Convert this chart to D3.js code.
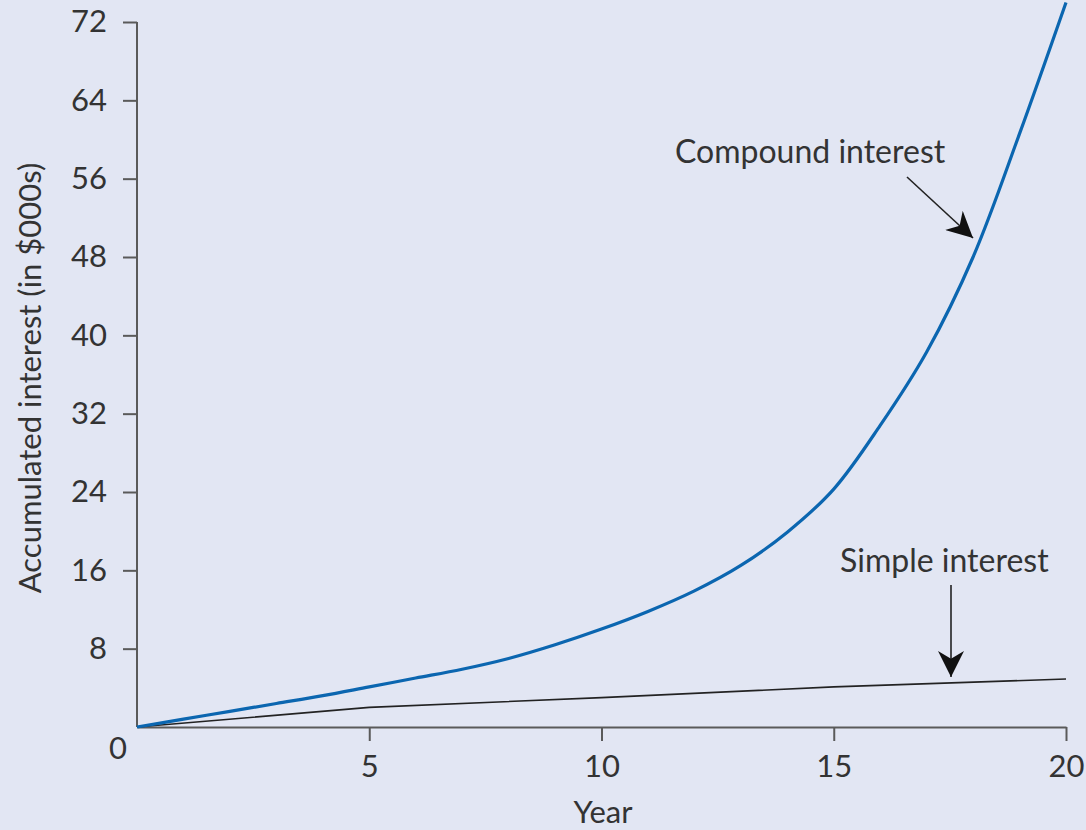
<!DOCTYPE html>
<html>
<head>
<meta charset="utf-8">
<script src="https://cdn.jsdelivr.net/npm/d3@7"></script>
<style>
  html, body { margin: 0; padding: 0; background: #e2e6f3; }
  svg { display: block; }
  text { font-family: Lato, "Open Sans", sans-serif; fill: #333; }
</style>
</head>
<body>
<svg id="chart" width="1086" height="830"></svg>
<script>
const years = [0,1,2,3,4,5,6,7,8,9,10,11,12,13,14,15,16,17,18,19,20];
const compoundInterest = [0,0.8,1.6,2.4,3.2,4.1,5.0,5.9,7.0,8.4,10.0,11.8,13.9,16.5,19.9,24.3,30.8,38.3,48.0,60.6,74];
const simpleYears = [0,5,10,15,20];
const simpleInterest = [0,2.0,3.0,4.1,4.9];
const yTicks = [8,16,24,32,40,48,56,64,72];
const xTicks = [5,10,15,20];

const svg = d3.select("#chart");
const x = d3.scaleLinear().domain([0,20]).range([137,1066]);
const y = d3.scaleLinear().domain([0,72]).range([727,22]);

const axisColor = "#5a5a5a";
const fs = "31px";

// Axes
const yAxis = svg.append("g").attr("transform", `translate(${x(0)},0)`)
  .call(d3.axisLeft(y).tickValues(yTicks).tickSize(14).tickSizeOuter(0).tickPadding(16));
const xAxis = svg.append("g").attr("transform", `translate(0,${y(0)})`)
  .call(d3.axisBottom(x).tickValues(xTicks).tickSize(14).tickSizeOuter(0).tickPadding(14));
[yAxis, xAxis].forEach(a => {
  a.select(".domain").attr("stroke", axisColor).attr("stroke-width", 2);
  a.selectAll(".tick line").attr("stroke", axisColor).attr("stroke-width", 2);
  a.selectAll(".tick text").attr("fill", "#333").style("font-size", fs)
    .style("font-family", "Lato, sans-serif");
});
yAxis.select(".domain").attr("d", `M0,${y(0)}V${y(72)}`);

// origin label
svg.append("text").attr("x", x(0) - 19).attr("y", y(0) + 32)
  .attr("text-anchor", "middle").style("font-size", fs).text("0");

// Axis titles
svg.append("text").attr("x", 603).attr("y", 823).attr("text-anchor", "middle")
  .style("font-size", fs).text("Year");
svg.append("text").attr("transform", `translate(41,378) rotate(-90)`)
  .attr("text-anchor", "middle").style("font-size", fs)
  .text("Accumulated interest (in $000s)");

// Lines
svg.append("path").datum(simpleYears.map((v,i) => [v, simpleInterest[i]]))
  .attr("d", d3.line().x(d => x(d[0])).y(d => y(d[1])))
  .attr("fill", "none").attr("stroke", "#222").attr("stroke-width", 1.6);
svg.append("path").datum(years.map((v,i) => [v, compoundInterest[i]]))
  .attr("d", d3.line().x(d => x(d[0])).y(d => y(d[1])).curve(d3.curveCatmullRom.alpha(0.5)))
  .attr("fill", "none").attr("stroke", "#0b66b0").attr("stroke-width", 3.2);

// Arrow marker
svg.append("defs").append("marker").attr("id", "arrow")
  .attr("viewBox", "0 0 10 10").attr("refX", 10).attr("refY", 5)
  .attr("markerWidth", 26).attr("markerHeight", 26).attr("markerUnits", "userSpaceOnUse")
  .attr("orient", "auto")
  .append("path").attr("d", "M0,0 L10,5 L0,10 L3,5 Z").attr("fill", "#111");

// Annotations
svg.append("text").attr("x", 675).attr("y", 163).style("font-size", "32px").text("Compound interest");
svg.append("line").attr("x1", 907).attr("y1", 177).attr("x2", 973).attr("y2", 238)
  .attr("stroke", "#222").attr("stroke-width", 1.6).attr("marker-end", "url(#arrow)");

svg.append("text").attr("x", 840).attr("y", 572).style("font-size", "32px").text("Simple interest");
svg.append("line").attr("x1", 951).attr("y1", 585).attr("x2", 951).attr("y2", 677)
  .attr("stroke", "#222").attr("stroke-width", 1.6).attr("marker-end", "url(#arrow)");
</script>
</body>
</html>
